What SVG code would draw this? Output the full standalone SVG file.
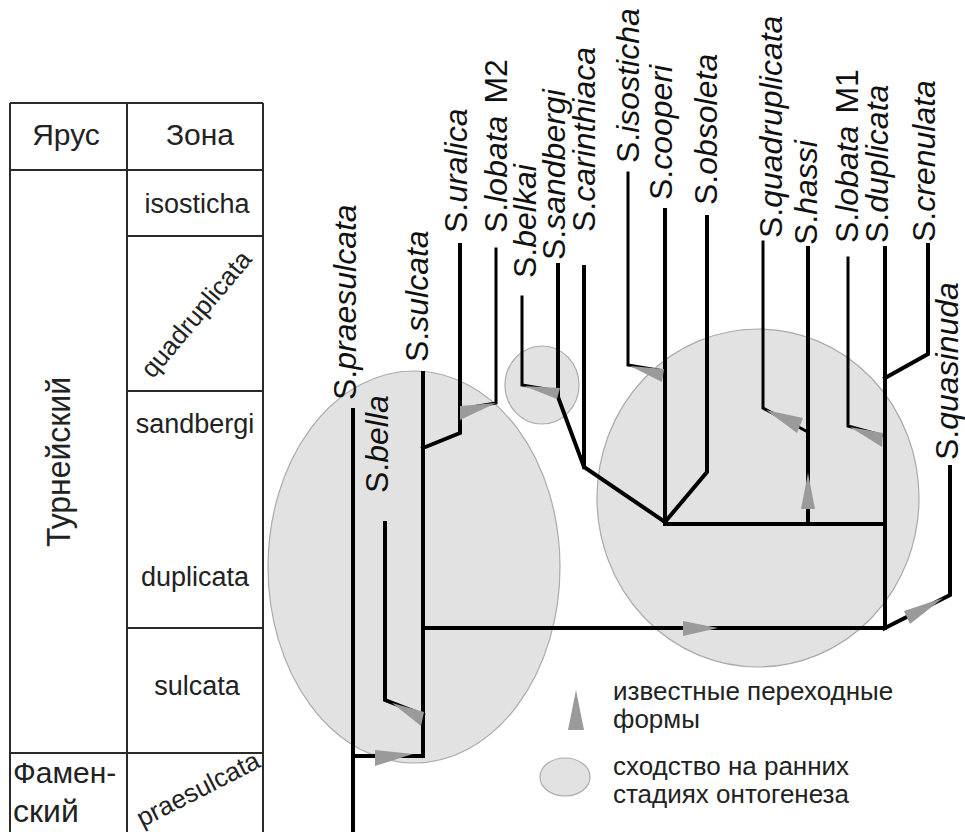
<svg xmlns="http://www.w3.org/2000/svg" width="965" height="832" viewBox="0 0 965 832">
<style>
.tl{stroke:#2a2a2a;stroke-width:2;fill:none}
.tt{font-family:"Liberation Sans",Arial,sans-serif;fill:#222}
.sp{font-family:"Liberation Sans",Arial,sans-serif;font-size:32px;fill:#111}
.it{font-style:italic}
.br{stroke:#000;stroke-width:4;fill:none;stroke-linejoin:miter;stroke-linecap:square}
.wd{fill:#9a9a9a;stroke:none}
.el{fill:#e2e2e2;stroke:#aaaaaa;stroke-width:1.2}
.lg{font-family:"Liberation Sans",Arial,sans-serif;font-size:26px;fill:#222}
</style>
<rect width="965" height="832" fill="#fff"/>

<g id="ellipses">
<ellipse class="el" cx="414" cy="567" rx="146" ry="196"/>
<ellipse class="el" cx="542" cy="385" rx="37" ry="39"/>
<ellipse class="el" cx="758" cy="498" rx="161" ry="169"/>
</g>

<g id="table">
<path class="tl" d="M10,103 H263 M10,103 V832 M263,103 V832 M127,103 V832 M10,170 H263 M127,236 H263 M127,391 H263 M127,628 H263 M10,753 H263"/>
<text class="tt" x="66" y="145" font-size="30" text-anchor="middle">Ярус</text>
<text class="tt" x="200" y="145" font-size="30" text-anchor="middle">Зона</text>
<text class="tt" x="197" y="213" font-size="27" text-anchor="middle">isosticha</text>
<text class="tt" font-size="26" text-anchor="middle" transform="translate(196,314) rotate(-50)" y="9">quadruplicata</text>
<text class="tt" x="195" y="433" font-size="27" text-anchor="middle">sandbergi</text>
<text class="tt" x="195" y="586" font-size="27" text-anchor="middle">duplicata</text>
<text class="tt" x="197" y="695" font-size="27" text-anchor="middle">sulcata</text>
<text class="tt" font-size="26" text-anchor="middle" transform="translate(198,789) rotate(-27)" y="9">praesulcata</text>
<text class="tt" font-size="34" text-anchor="middle" transform="translate(70,462) rotate(-90)" textLength="170" lengthAdjust="spacingAndGlyphs">Турнейский</text>
<text class="tt" x="13" y="783" font-size="30">Фамен-</text>
<text class="tt" x="13" y="822" font-size="32">ский</text>
</g>

<g id="connectors">
<path class="br" d="M353,410 V832"/>
<path class="br" d="M353,756 H423 V373"/>
<path class="br" d="M385,523 V700 L423,715"/>
<path class="br" d="M423,628 H885"/>
<path class="br" d="M423,448 L460,433 V245"/>
<path class="br" d="M496,249 V403 L460,409" style="stroke-width:3"/>
<path class="br" d="M522,297 V385 L558,391" style="stroke-width:3"/>
<path class="br" d="M558,265 V397 L584,467"/>
<path class="br" d="M584,267 V467 L665,522"/>
<path class="br" d="M628,173 V365 L664,371" style="stroke-width:3"/>
<path class="br" d="M665,210 V524 H885"/>
<path class="br" d="M707,217 V472 L665,522"/>
<path class="br" d="M763,242 V408 L808,432" style="stroke-width:3"/>
<path class="br" d="M808,248 V524"/>
<path class="br" d="M848,258 V426 L885,436" style="stroke-width:3"/>
<path class="br" d="M885,248 V628 L950,595 V467"/>
<path class="br" d="M928,245 V354 L885,378"/>
</g>

<g id="wedges">
<polygon class="wd" points="375,750 375,766 413,754"/>
<polygon class="wd" points="392,703 424,712 421,726"/>
<polygon class="wd" points="460,406 460,420 496,403"/>
<polygon class="wd" points="524,386 560,388 557,399"/>
<polygon class="wd" points="630,366 664,369 662,382"/>
<polygon class="wd" points="766,410 803,418 797,433"/>
<polygon class="wd" points="850,427 883,433 882,447"/>
<polygon class="wd" points="808,473 801,509 815,509"/>
<polygon class="wd" points="683,621 683,636 718,628"/>
<polygon class="wd" points="904,611 910,624 943,598"/>
</g>

<g id="labels">
<text class="sp" transform="translate(356,400) rotate(-90)">S.<tspan class="it">praesulcata</tspan></text>
<text class="sp" transform="translate(388,493) rotate(-90)">S.<tspan class="it">bella</tspan></text>
<text class="sp" transform="translate(428,362) rotate(-90)">S.<tspan class="it">sulcata</tspan></text>
<text class="sp" transform="translate(467,233) rotate(-90)">S.<tspan class="it">uralica</tspan></text>
<text class="sp" transform="translate(507,233) rotate(-90)">S.<tspan class="it">lobata</tspan><tspan dx="12">M2</tspan></text>
<text class="sp" transform="translate(536,278) rotate(-90)">S.<tspan class="it">belkai</tspan></text>
<text class="sp" transform="translate(565,260) rotate(-90)">S.<tspan class="it">sandbergi</tspan></text>
<text class="sp" transform="translate(595,232) rotate(-90)">S.<tspan class="it">carinthiaca</tspan></text>
<text class="sp" transform="translate(639,163) rotate(-90)">S.<tspan class="it">isosticha</tspan></text>
<text class="sp" transform="translate(672,200) rotate(-90)">S.<tspan class="it">cooperi</tspan></text>
<text class="sp" transform="translate(717,205) rotate(-90)">S.<tspan class="it">obsoleta</tspan></text>
<text class="sp" transform="translate(782,238) rotate(-90)">S.<tspan class="it">quadruplicata</tspan></text>
<text class="sp" transform="translate(817,245) rotate(-90)">S.<tspan class="it">hassi</tspan></text>
<text class="sp" transform="translate(858,243) rotate(-90)">S.<tspan class="it">lobata</tspan><tspan dx="12">M1</tspan></text>
<text class="sp" transform="translate(888,243) rotate(-90)">S.<tspan class="it">duplicata</tspan></text>
<text class="sp" transform="translate(935,242) rotate(-90)">S.<tspan class="it">crenulata</tspan></text>
<text class="sp" transform="translate(958,460) rotate(-90)">S.<tspan class="it">quasinuda</tspan></text>
</g>

<g id="legend">
<polygon class="wd" points="576,690 568,730 584,730"/>
<text class="lg" x="613" y="700">известные переходные</text>
<text class="lg" x="613" y="728">формы</text>
<ellipse class="el" cx="565" cy="777" rx="25" ry="19"/>
<text class="lg" x="613" y="775">сходство на ранних</text>
<text class="lg" x="613" y="803">стадиях онтогенеза</text>
</g>
</svg>
